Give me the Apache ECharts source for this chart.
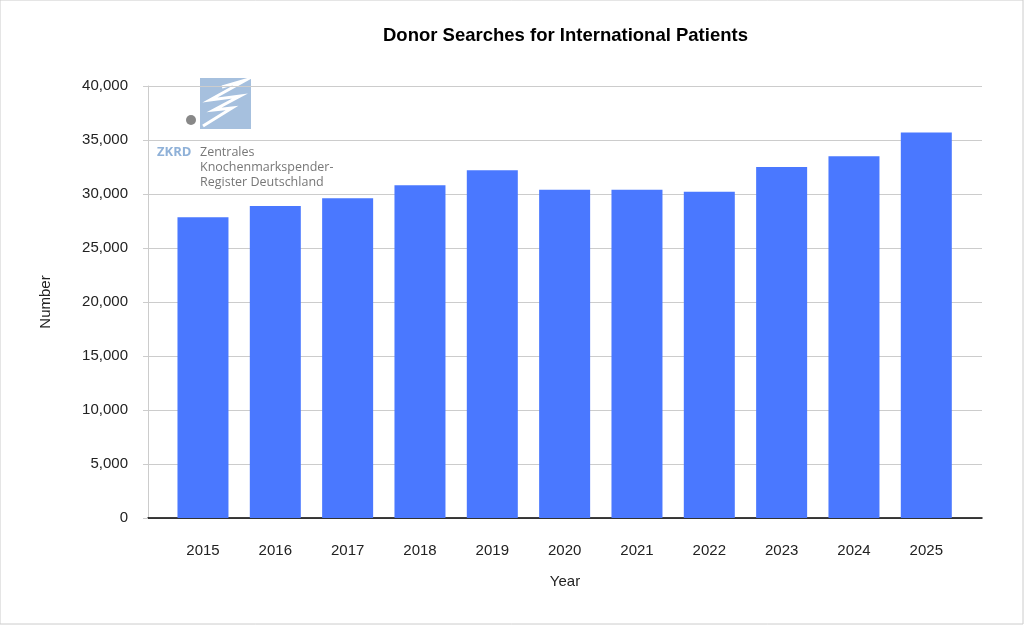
<!DOCTYPE html>
<html>
<head>
<meta charset="utf-8">
<script src="https://cdn.jsdelivr.net/npm/echarts@6/dist/echarts.min.js"></script>
<style>
html, body { margin: 0; padding: 0; background: #fff; }
#chart { width: 1024px; height: 625px; }
</style>
</head>
<body>
<div id="chart"></div>
<script>
var years = [2015, 2016, 2017, 2018, 2019, 2020, 2021, 2022, 2023, 2024, 2025];
var searches = [27850, 28900, 29600, 30800, 32200, 30400, 30400, 30200, 32500, 33500, 35700];

var myChart = echarts.init(document.getElementById('chart'));
var option = {
    backgroundColor: '#fff',
    title: {
        text: 'Donor Searches for International Patients',
        left: 'center',
        top: 21,
        textStyle: { fontFamily: 'Arial, Liberation Sans', fontSize: 18.5, fontWeight: 'bold', color: '#000' }
    },
    grid: { left: 148, right: 42, top: 86, bottom: 107 },
    xAxis: {
        type: 'value',
        min: 2014.24,
        max: 2025.77,
        name: 'Year',
        nameLocation: 'middle',
        nameGap: 56,
        nameTextStyle: { fontFamily: 'Arial, Liberation Sans', fontSize: 15, color: '#222' },
        axisLine: { lineStyle: { color: '#000', width: 1.5 } },
        axisTick: { show: false },
        splitLine: { show: false },
        axisLabel: {
            margin: 25, customValues: years,
            fontFamily: 'Arial, Liberation Sans', fontSize: 15, color: '#222',
            formatter: function (v) { return String(v); }
        }
    },
    yAxis: {
        type: 'value',
        min: 0,
        max: 40000,
        interval: 5000,
        name: 'Number',
        nameLocation: 'middle',
        nameGap: 95,
        nameTextStyle: { fontFamily: 'Arial, Liberation Sans', fontSize: 15, color: '#222' },
        axisLine: { show: true, lineStyle: { color: '#ccc' } },
        axisLabel: {
            margin: 20,
            fontFamily: 'Arial, Liberation Sans', fontSize: 15, color: '#222',
            formatter: function (v) { return v.toLocaleString('en-US'); }
        },
        splitLine: { lineStyle: { color: '#ccc' } }
    },
    series: [{
        type: 'bar',
        data: years.map(function (y, i) { return [y, searches[i]]; }),
        barWidth: 51,
        itemStyle: { color: '#4a78ff' }
    }],
    graphic: [
        { type: 'rect', shape: { x: 0, y: 0, width: 1023, height: 624 }, style: { fill: 'none', stroke: '#ccc' }, silent: true },
        { type: 'rect', shape: { x: 200, y: 78, width: 51, height: 51 }, style: { fill: '#a6c0de' } },
        { type: 'polyline', shape: { points: [[222, 87], [246, 80], [210, 100], [240, 96], [214, 110], [232, 108], [203, 126]] },
          style: { stroke: '#fff', lineWidth: 3, fill: 'none' } },
        { type: 'circle', shape: { cx: 191, cy: 120, r: 5 }, style: { fill: '#888' } },
        { type: 'text', left: 157, top: 146, style: { text: 'ZKRD', fill: '#8fb1d8', font: 'bold 13px "Open Sans"' } },
        { type: 'text', left: 200, top: 145, style: { text: 'Zentrales\nKnochenmarkspender-\nRegister Deutschland', fill: '#777', font: '12.5px "Open Sans"', lineHeight: 15 } }
    ]
};
option.title.left = 565 - 187;
myChart.setOption(option);
</script>
</body>
</html>
